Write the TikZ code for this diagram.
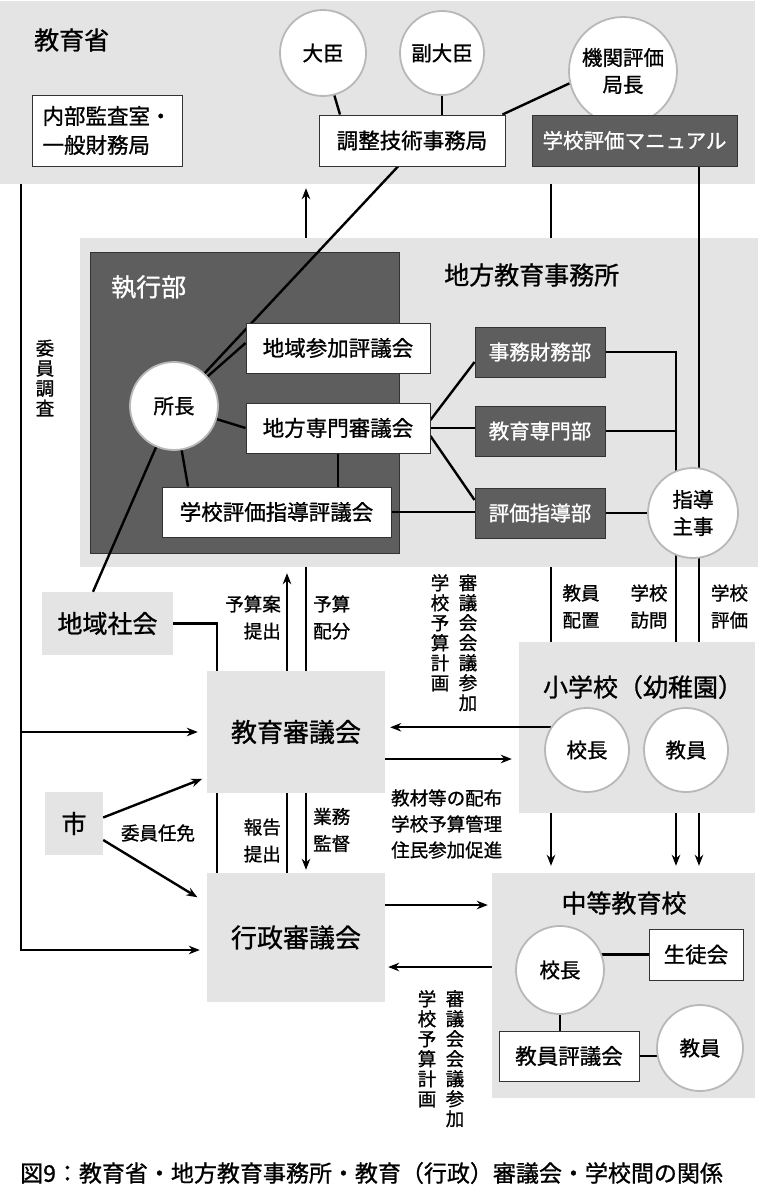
\documentclass[tikz,border=0pt]{standalone}
\usepackage{fontspec}
\setmainfont{Noto Sans CJK JP}[FakeBold=1]
\usetikzlibrary{arrows.meta}
\pgfdeclarelayer{back}
\pgfdeclarelayer{mid}
\pgfsetlayers{back,mid,main}
\definecolor{lg}{HTML}{E4E4E4}
\definecolor{dg}{HTML}{5E5E5E}
\definecolor{bd}{HTML}{333333}
\definecolor{cb}{HTML}{B8B8B8}
\begin{document}
\begin{tikzpicture}[x=1pt,y=-1pt,
  region/.style={fill=lg,draw=none,inner sep=0},
  wbox/.style={draw=bd,line width=0.9pt,fill=white,inner sep=0,align=left,font=\fontsize{21.5pt}{29pt}\selectfont},
  dbox/.style={draw=bd,line width=0.9pt,fill=dg,text=white,inner sep=0,font=\fontsize{20.5pt}{26pt}\selectfont},
  circ/.style={circle,fill=white,draw=cb,line width=1.8pt,inner sep=0,align=center,font=\fontsize{20.5pt}{27pt}\selectfont},
  ttl/.style={font=\fontsize{25pt}{30pt}\selectfont,inner sep=0},
  lab/.style={font=\fontsize{18.5pt}{27pt}\selectfont,inner sep=0},
  vlab/.style={font=\fontsize{18.5pt}{20pt}\selectfont,inner sep=0,align=center,anchor=north},
  conn/.style={line width=2.4pt},
  arr/.style={line width=2.4pt,-{Stealth[length=11pt,width=8.5pt]}},
]
\useasboundingbox (0,0) rectangle (758,1186);

% ---------- regions (back layer)
\begin{pgfonlayer}{back}
\fill[white] (0,0) rectangle (758,1186);
\node[region,minimum width=755pt,minimum height=183pt] (moe) at (377.5,92.5) {};
\node[region,minimum width=678pt,minimum height=329pt] (lea) at (419,402.5) {};
\node[draw=bd,line width=0.9pt,fill=dg,minimum width=309pt,minimum height=301pt,inner sep=0] (exec) at (244.5,402.5) {};
\node[region,minimum width=131pt,minimum height=63pt,font=\fontsize{25pt}{30pt}\selectfont] (shakai) at (107.5,623.5) {地域社会};
\node[region,minimum width=58pt,minimum height=63pt,font=\fontsize{25pt}{30pt}\selectfont] (shi) at (74,823.5) {市};
\node[region,minimum width=236pt,minimum height=171pt] (sho) at (637,727.5) {};
\node[region,minimum width=263pt,minimum height=225pt] (chu) at (623.5,985.5) {};
\end{pgfonlayer}

% ---------- main nodes
\node[region,minimum width=178pt,minimum height=122pt,font=\fontsize{26pt}{30pt}\selectfont] (kyoshin) at (296,732) {教育審議会};
\node[region,minimum width=178pt,minimum height=129pt,font=\fontsize{26pt}{30pt}\selectfont] (gyosei) at (296,937.5) {行政審議会};

\node[ttl,anchor=west] (t1) at (34,40) {教育省};
\node[ttl,anchor=west,text=white] (t2) at (111,287) {執行部};
\node[ttl,anchor=west] (t3) at (444,275) {地方教育事務所};
\node[ttl] (t4) at (643,687) {小学校（幼稚園）};
\node[ttl] (t5) at (624,903) {中等教育校};

\node[wbox,minimum width=150pt,minimum height=71pt] (naibu) at (107,130.5) {内部監査室・\\一般財務局};
\node[wbox,minimum width=186pt,minimum height=51pt] (chosei) at (412,140.5) {調整技術事務局};
\node[wbox,minimum width=184pt,minimum height=50pt] (chiikisanka) at (338,348) {地域参加評議会};
\node[wbox,minimum width=184pt,minimum height=50pt] (chihosenmon) at (338,428) {地方専門審議会};
\node[wbox,minimum width=229pt,minimum height=50pt] (gakkohyoka) at (276.5,512) {学校評価指導評議会};
\node[wbox,minimum width=94pt,minimum height=51pt] (seito) at (696,954.5) {生徒会};
\node[wbox,minimum width=140pt,minimum height=50pt] (kyoinhyo) at (569,1056) {教員評議会};

\node[circ,minimum size=86pt] (daijin) at (323,53) {大臣};
\node[circ,minimum size=84pt] (fuku) at (442,53) {副大臣};
\node[circ,minimum size=108pt] (kikan) at (623,71) {機関評価\\局長};

\node[dbox,minimum width=205pt,minimum height=51pt] (manual) at (634.5,140.5) {学校評価マニュアル};
\node[dbox,minimum width=130pt,minimum height=50pt] (jimu) at (540,352) {事務財務部};
\node[dbox,minimum width=130pt,minimum height=50pt] (kyoiku) at (540,431) {教育専門部};
\node[dbox,minimum width=130pt,minimum height=50pt] (hyokashido) at (540,513) {評価指導部};

\node[circ,minimum size=88pt] (shocho) at (174,406) {所長};
\node[circ,minimum size=90pt] (shido) at (693,513) {指導\\主事};
\node[circ,minimum size=84pt] (skocho) at (587,750) {校長};
\node[circ,minimum size=84pt] (skyoin) at (686,750) {教員};
\node[circ,minimum size=88pt] (ckocho) at (560,970) {校長};
\node[circ,minimum size=86pt] (ckyoin) at (700,1048) {教員};

% ---------- labels
\node[vlab,anchor=center] (iinchosa) at (45,378) {委\\員\\調\\査};
\node[lab,align=right,anchor=east] (yosanan) at (281,617.5) {予算案\\提出};
\node[lab,align=left,anchor=west] (haibun) at (313,617.5) {予算\\配分};
\node[lab,align=right,anchor=east] (hokoku) at (281,840.5) {報告\\提出};
\node[lab,align=left,anchor=west] (gyomu) at (313,830) {業務\\監督};
\node[lab] (ninmen) at (158,833) {委員任免};
\node[lab,align=center] (haichi) at (581,606.5) {教員\\配置};
\node[lab,align=center] (homon) at (649,606.5) {学校\\訪問};
\node[lab,align=center] (hyoka) at (729.5,606.5) {学校\\評価};
\node[vlab] (v1) at (440,574) {学\\校\\予\\算\\計\\画};
\node[vlab] (v2) at (468,574) {審\\議\\会\\会\\議\\参\\加};
\node[lab,align=left,anchor=west,font=\fontsize{18.5pt}{26pt}\selectfont] (kyozai) at (391,824) {教材等の配布\\学校予算管理\\住民参加促進};
\node[vlab] (v3) at (427,990) {学\\校\\予\\算\\計\\画};
\node[vlab] (v4) at (455,990) {審\\議\\会\\会\\議\\参\\加};
\node[anchor=west,inner sep=0,font=\fontsize{23pt}{28pt}\selectfont] (cap) at (20,1173) {図9：教育省・地方教育事務所・教育（行政）審議会・学校間の関係};

% ---------- helper coordinates
\coordinate (X21) at (21,0);
\coordinate (X217) at (217,0);
\coordinate (X287) at (287,0);
\coordinate (X306) at (306,0);
\coordinate (X551) at (551,0);
\coordinate (X676) at (676,0);
\coordinate (X699) at (699,0);
\coordinate (L1) at (21,950);

% ---------- connectors (mid layer)
\begin{pgfonlayer}{mid}
\draw[conn] (daijin.-75) -- ([xshift=-72pt]chosei.north);
\draw[conn] (fuku.south) -- (fuku.south |- chosei.north);
\draw[conn] ([xshift=-3pt]chosei.north east) -- (kikan.193);
\draw[conn] ([xshift=-14pt]chosei.south) -- (shocho.center);
\draw[conn] (X699 |- manual.south) -- (X699 |- sho.north);
\draw[conn] (X551 |- moe.south) -- (X551 |- lea.north);
\draw[arr,shorten >=4pt] (X306 |- lea.north) -- (X306 |- moe.south);
\draw[conn] (shocho.center) -- ([yshift=5pt]chiikisanka.west);
\draw[conn] (shocho.center) -- (chihosenmon.west);
\draw[conn] (shocho.center) -- ([xshift=-88.5pt]gakkohyoka.north);
\draw[conn] (shocho.center) -- ([xshift=-14.5pt]shakai.north);
\draw[conn] (chihosenmon.south) -- (chihosenmon.south |- gakkohyoka.north);
\draw[conn] ([yshift=8pt]chihosenmon.east) -- ([yshift=-10pt]jimu.west);
\draw[conn] (chihosenmon.east) -- (chihosenmon.east -| kyoiku.west);
\draw[conn] ([yshift=-8pt]chihosenmon.east) -- ([yshift=13pt]hyokashido.west);
\draw[conn] (gakkohyoka.east) -- (gakkohyoka.east -| hyokashido.west);
\draw[conn] (hyokashido.east) -- (shido.center);
\draw[conn] (jimu.east) -- (jimu.east -| X676) -- (X676 |- sho.north);
\draw[conn] (kyoiku.east) -- (kyoiku.east -| X676);
\draw[conn] (X551 |- lea.south) -- (X551 |- sho.north);
\foreach \c in {X551,X676,X699} \draw[arr,shorten >=7pt] (\c |- sho.south) -- (\c |- chu.north);
\draw[conn] (shakai.east) -- (shakai.east -| X217) -- (X217 |- gyosei.north);
\draw[arr,shorten >=6pt] (X287 |- gyosei.north) -- (X287 |- lea.south);
\draw[arr,shorten >=3pt] (X306 |- lea.south) -- (X306 |- gyosei.north);
\draw[arr,shorten >=5pt] ([yshift=6pt]shi.east) -- ([yshift=-45pt]kyoshin.west);
\draw[arr,shorten >=11pt] ([yshift=-16.5pt]shi.east) -- ([yshift=34.5pt]gyosei.west);
\draw[arr,shorten >=7pt] (X21 |- moe.south) -- (L1) -- (L1 -| gyosei.west);
\draw[arr,shorten >=9pt] (X21 |- kyoshin.west) -- (kyoshin.west);
\draw[arr,shorten >=5pt] (skocho.148) -- (skocho.148 -| kyoshin.east);
\draw[arr,shorten >=7pt] ([yshift=-27pt]kyoshin.east) -- ([yshift=-27pt]kyoshin.east -| sho.west);
\draw[arr,shorten >=4pt] ([yshift=32.5pt]gyosei.east) -- ([yshift=32.5pt]gyosei.east -| chu.west);
\draw[arr,shorten >=3pt] ([yshift=-29.5pt]gyosei.east -| chu.west) -- ([yshift=-29.5pt]gyosei.east);
\draw[conn] (seito.west) -- (seito.west -| ckocho.center);
\draw[conn] (ckocho.center) -- (ckocho.center |- kyoinhyo.north);
\draw[conn] (kyoinhyo.east) -- (kyoinhyo.east -| ckyoin.center);
\end{pgfonlayer}
\end{tikzpicture}
\end{document}
